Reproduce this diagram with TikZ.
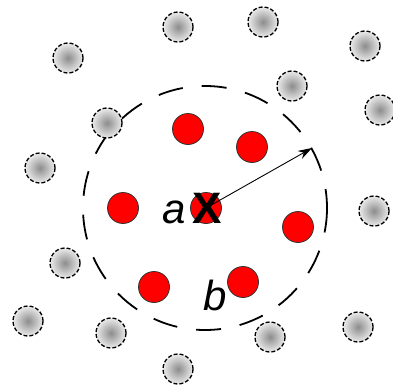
\documentclass[tikz,border=0pt]{standalone}
\usepackage{fontspec}
\setmainfont{Liberation Sans}
\usetikzlibrary{arrows.meta}

\begin{document}
\begin{tikzpicture}[x=1pt,y=-1pt,>={Stealth[length=14pt,width=9pt]},
  grayatom/.style={circle,draw,dash pattern=on 4pt off 2pt,line width=1.3pt,
    minimum size=30pt,inner sep=0pt,shading=radial,inner color=black!45,outer color=black!8},
  redatom/.style={circle,draw=black!80,fill=red,line width=0.8pt,minimum size=31pt,inner sep=0pt},
  lbl/.style={font=\fontsize{42}{42}\selectfont\itshape,inner sep=0pt}]
\useasboundingbox (0,0) rectangle (393,388);
% cutoff sphere around atom a
\node (cut) [circle,draw,line width=1.8pt,dash pattern=on 25pt off 19pt,dash phase=6pt,
  minimum size=244pt,inner sep=0pt] at (205,208) {};
% neighbours outside
\node (g1) [grayatom] at (178,27) {};
\node (g2) [grayatom] at (263,22) {};
\node (g3) [grayatom] at (365,46) {};
\node (g4) [grayatom] at (68,58) {};
\node (g5) [grayatom] at (292,86) {};
\node (g6) [grayatom] at (380,110) {};
\node (g7) [grayatom] at (107,123) {};
\node (g8) [grayatom] at (40,168) {};
\node (g9) [grayatom] at (374,211) {};
\node (g10) [grayatom] at (65,263) {};
\node (g11) [grayatom] at (28,321) {};
\node (g12) [grayatom] at (111,333) {};
\node (g13) [grayatom] at (270,337) {};
\node (g14) [grayatom] at (358,327) {};
\node (g15) [grayatom] at (178,369) {};
% neighbours inside
\node (r1) [redatom] at (188,129) {};
\node (r2) [redatom] at (252,147) {};
\node (r3) [redatom] at (123,208) {};
\node (ra) [redatom] at (206,208) {};
\node (r5) [redatom] at (298,227) {};
\node (r6) [redatom] at (154,287) {};
\node (rb) [redatom] at (243,282) {};
\node (cross) [inner sep=0pt,font=\fontsize{44}{44}\selectfont\bfseries] at (207,208) {X};
\node (la) [lbl] at (174,212) {a};
\node (lb) [lbl] at (215,295) {b};
\coordinate (rim) at (312,148);
\draw[->,line width=0.9pt] (ra.center) -- (rim);
\end{tikzpicture}
\end{document}
